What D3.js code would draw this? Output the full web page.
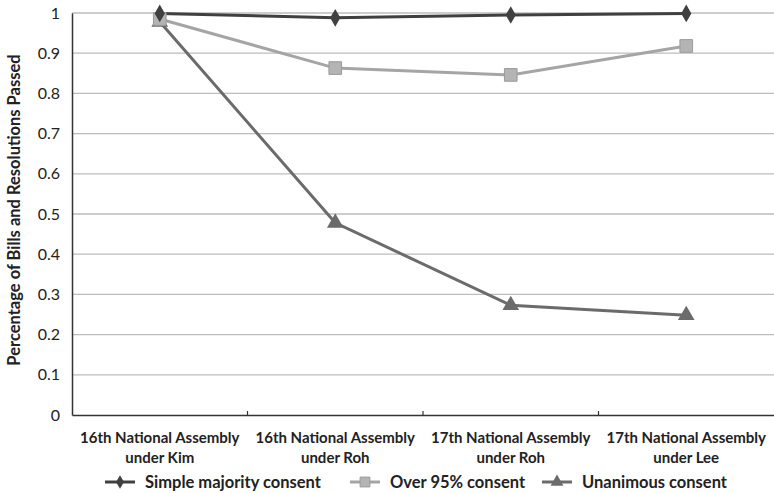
<!DOCTYPE html>
<html><head><meta charset="utf-8">
<script src="https://cdn.jsdelivr.net/npm/d3@7"></script>
<style>body{margin:0;background:#fff}svg{display:block}</style>
</head><body>
<svg id="c" width="774" height="493"></svg>
<script>
const categories = [
  ["16th National Assembly","under Kim"],
  ["16th National Assembly","under Roh"],
  ["17th National Assembly","under Roh"],
  ["17th National Assembly","under Lee"]
];
const simpleMajority = [0.999, 0.988, 0.995, 0.999];
const over95 = [0.985, 0.863, 0.846, 0.918];
const unanimous = [0.978, 0.478, 0.273, 0.248];
const yTicks = [0,0.1,0.2,0.3,0.4,0.5,0.6,0.7,0.8,0.9,1];
const yTickLabels = ["0","0.1","0.2","0.3","0.4","0.5","0.6","0.7","0.8","0.9","1"];
const seriesNames = ["Simple majority consent","Over 95% consent","Unanimous consent"];

const font = "Lato, 'Open Sans', sans-serif";
const svg = d3.select("#c");
const m = {l:72, r:0, t:13, b:78};
const W = 774, H = 493;
const x = d3.scaleBand().domain(d3.range(categories.length)).range([m.l, W - m.r]);
const y = d3.scaleLinear().domain([0,1]).range([H - m.b, m.t]);

// gridlines
svg.append("g").selectAll("line").data(yTicks.filter(d=>d>0)).join("line")
  .attr("x1", m.l).attr("x2", W).attr("y1", d=>y(d)).attr("y2", d=>y(d))
  .attr("stroke", "#bdbdbd").attr("stroke-width", 1.3);

// y axis
const ya = svg.append("g").attr("transform", `translate(${m.l},0)`)
  .call(d3.axisLeft(y).tickValues(yTicks).tickFormat((d,i)=>yTickLabels[i]).tickSize(0).tickPadding(12));
ya.select(".domain").attr("stroke","#333").attr("stroke-width",1.5);
ya.selectAll("text").attr("font-family", font).attr("font-size", 16).attr("fill","#222");

// x axis
const xa = svg.append("g").attr("transform", `translate(0,${y(0)})`)
  .call(d3.axisBottom(x).tickSize(0).tickFormat(""));
xa.select(".domain").attr("stroke","#333").attr("stroke-width",1.5);
// inner boundary ticks
svg.append("g").selectAll("line").data(d3.range(1, categories.length)).join("line")
  .attr("x1", d=>x(d)).attr("x2", d=>x(d)).attr("y1", y(0)).attr("y2", y(0)-4)
  .attr("stroke","#333").attr("stroke-width",1.2);

// x labels
const xl = svg.append("g").selectAll("text").data(categories).join("text")
  .attr("x", (d,i)=>x(i)+x.bandwidth()/2).attr("y", y(0)+28)
  .attr("text-anchor","middle").attr("font-family", font).attr("font-weight","bold")
  .attr("font-size", 15).attr("fill","#222");
xl.append("tspan").attr("x",(d,i)=>x(i)+x.bandwidth()/2).text(d=>d[0]);
xl.append("tspan").attr("x",(d,i)=>x(i)+x.bandwidth()/2).attr("dy", 20).text(d=>d[1]);

// y title
svg.append("text").attr("transform", `translate(20,${(y(0)+y(1))/2 - 4}) rotate(-90)`)
  .attr("text-anchor","middle").attr("font-family", font).attr("font-weight","bold")
  .attr("font-size", 16.5).attr("fill","#222").text("Percentage of Bills and Resolutions Passed");

const cx = i => x(i) + x.bandwidth()/2;
const line = d3.line().x((d,i)=>cx(i)).y(d=>y(d));

const series = [
  {name: seriesNames[0], data: simpleMajority, color:"#404040", fill:"#404040", sym:d3.symbolDiamond, size:90, stroke:null},
  {name: seriesNames[1], data: over95, color:"#a5a5a5", fill:"#b4b4b4", sym:d3.symbolSquare, size:160, stroke:"#9a9a9a"},
  {name: seriesNames[2], data: unanimous, color:"#6b6b6b", fill:"#6b6b6b", sym:d3.symbolTriangle, size:120, stroke:null}
];

series.slice().reverse().forEach(s=>{
  svg.append("path").datum(s.data).attr("d", line).attr("fill","none")
    .attr("stroke", s.color).attr("stroke-width", 3);
});
series.slice().reverse().forEach(s=>{
  svg.append("g").selectAll("path").data(s.data).join("path")
    .attr("transform",(d,i)=>`translate(${cx(i)},${y(d)})`)
    .attr("d", d3.symbol().type(s.sym).size(s.size)())
    .attr("fill", s.fill).attr("stroke", s.stroke || "none").attr("stroke-width", 1);
});

// legend
const legX = [105, 350, 542];
const lg = svg.append("g");
series.forEach((s,i)=>{
  const g = lg.append("g").attr("transform", `translate(${legX[i]},482)`);
  g.append("line").attr("x1",0).attr("x2",30).attr("stroke",s.color).attr("stroke-width",3);
  g.append("path").attr("transform","translate(15,0)")
    .attr("d", d3.symbol().type(s.sym).size(s.size*0.6)())
    .attr("fill", s.fill).attr("stroke", s.stroke||"none");
  g.append("text").attr("x", 40).attr("y", 6).attr("font-family", font).attr("font-weight","bold")
    .attr("font-size", 16.5).attr("fill","#222").text(s.name);
});
</script>
</body></html>
